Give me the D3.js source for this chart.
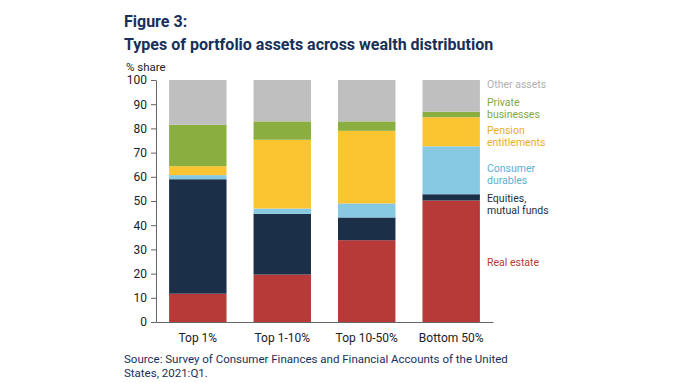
<!DOCTYPE html>
<html>
<head>
<meta charset="utf-8">
<script src="https://cdn.jsdelivr.net/npm/d3@7"></script>
<style>
  body { margin: 0; background: #fff; }
  svg { display: block; font-family: Roboto, "Open Sans", sans-serif; }
</style>
</head>
<body>
<div id="chart"></div>
<script>
// Data
const groups = ["Top 1%", "Top 1-10%", "Top 10-50%", "Bottom 50%"];
const seriesNames = ["Real estate", "Equities, mutual funds", "Consumer durables", "Pension entitlements", "Private businesses", "Other assets"];
const realEstate = [11.7, 19.6, 33.8, 50.2];
const equities = [47.3, 25.1, 9.4, 2.6];
const consumerDurables = [1.7, 2.2, 5.8, 19.8];
const pension = [3.7, 28.4, 30.0, 12.0];
const privateBusiness = [17.1, 7.6, 3.9, 2.3];
const otherAssets = [18.5, 17.1, 17.1, 13.1];
const yTicks = [0, 10, 20, 30, 40, 50, 60, 70, 80, 90, 100];

const colors = ["#b83a38", "#1b3048", "#87c9e3", "#fbc531", "#8aae3f", "#bfbfbf"];
const labelColors = ["#b83a38", "#1b3048", "#5ab0d2", "#e9ae1c", "#82a83a", "#b0b0b0"];
const legendLines = [["Real estate"], ["Equities,", "mutual funds"], ["Consumer", "durables"], ["Pension", "entitlements"], ["Private", "businesses"], ["Other assets"]];
const legendY = [262, 198, 168, 130, 102, 84];

const rows = groups.map((g, i) => ({
  group: g,
  "Real estate": realEstate[i],
  "Equities, mutual funds": equities[i],
  "Consumer durables": consumerDurables[i],
  "Pension entitlements": pension[i],
  "Private businesses": privateBusiness[i],
  "Other assets": otherAssets[i]
}));

const width = 680, height = 383;
const svg = d3.select("#chart").append("svg")
  .attr("width", width)
  .attr("height", height);

const x = d3.scaleBand()
  .domain(groups)
  .range([156, 493])
  .paddingInner(0.32)
  .paddingOuter(0.155);

const y = d3.scaleLinear()
  .domain([0, 100])
  .range([322, 80]);

// Title
svg.append("text").attr("x", 124).attr("y", 27)
  .attr("font-size", 16).attr("font-weight", 700).attr("fill", "#17305a")
  .text("Figure 3:");
svg.append("text").attr("x", 124).attr("y", 50)
  .attr("font-size", 16).attr("font-weight", 700).attr("fill", "#17305a")
  .text("Types of portfolio assets across wealth distribution");

svg.append("text").attr("x", 126).attr("y", 71)
  .attr("font-size", 11.5).attr("fill", "#222")
  .text("% share");

// Stacked bars
const stacked = d3.stack().keys(seriesNames)(rows);
svg.append("g").selectAll("g")
  .data(stacked)
  .join("g")
  .attr("fill", (d, i) => colors[i])
  .selectAll("rect")
  .data(d => d)
  .join("rect")
  .attr("x", d => x(d.data.group))
  .attr("y", d => y(d[1]))
  .attr("width", x.bandwidth())
  .attr("height", d => y(d[0]) - y(d[1]));

// Y axis
const yAxis = svg.append("g")
  .attr("transform", "translate(156,0)")
  .call(d3.axisLeft(y).tickValues(yTicks).tickSize(5).tickSizeOuter(0));
yAxis.select(".domain").attr("stroke", "#666");
yAxis.selectAll(".tick line").attr("stroke", "#666");
yAxis.selectAll(".tick text").attr("font-size", 12).attr("fill", "#222")
  .attr("font-family", "Roboto, sans-serif").attr("x", -9);

// X axis
const xAxis = svg.append("g")
  .attr("transform", "translate(0,322)")
  .call(d3.axisBottom(x).tickSize(0).tickSizeOuter(0));
xAxis.select(".domain").attr("stroke", "#666");
xAxis.selectAll(".tick text").attr("font-size", 12).attr("fill", "#222")
  .attr("font-family", "Roboto, sans-serif").attr("dy", "1.4em");

// Series labels at right
legendLines.forEach((lines, i) => {
  const t = svg.append("text")
    .attr("x", 487)
    .attr("y", legendY[i])
    .attr("font-size", 10.5)
    .attr("fill", labelColors[i]);
  lines.forEach((ln, j) => {
    t.append("tspan").attr("x", 487).attr("dy", j === 0 ? "0.35em" : 12.5).text(ln);
  });
});

// Source
svg.append("text").attr("x", 124).attr("y", 363)
  .attr("font-size", 11.5).attr("fill", "#17305a")
  .text("Source: Survey of Consumer Finances and Financial Accounts of the United");
svg.append("text").attr("x", 124).attr("y", 377)
  .attr("font-size", 11.5).attr("fill", "#17305a")
  .text("States, 2021:Q1.");
</script>
</body>
</html>
